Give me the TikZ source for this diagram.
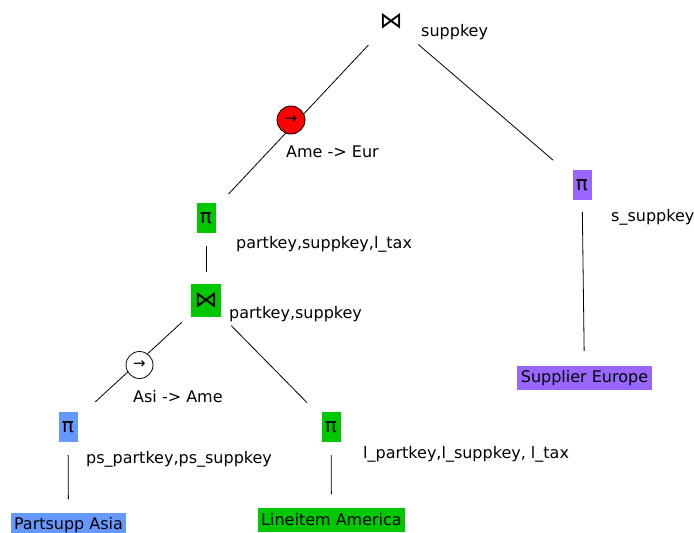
\documentclass[tikz,border=0pt]{standalone}
\usepackage{fontspec}
\setmainfont{DejaVu Sans}
\definecolor{opgreen}{RGB}{0,200,0}
\definecolor{opblue}{RGB}{102,153,255}
\definecolor{oppurple}{RGB}{153,102,255}
\begin{document}
\begin{tikzpicture}[x=1pt,y=-1pt,
  every node/.style={font=\fontsize{16}{19}\selectfont},
  opbox/.style={inner sep=0pt, minimum width=19pt, minimum height=30pt, font=\fontsize{20}{22}\selectfont},
  joinbox/.style={inner sep=0pt, minimum width=30pt, minimum height=33pt},
  relbox/.style={inner xsep=3.5pt, inner ysep=0pt, minimum height=24pt},
  lbl/.style={inner sep=0pt, anchor=base west},
  conv/.style={circle, draw=black, line width=0.8pt, inner sep=0pt, minimum size=27pt, font=\fontsize{15}{16}\selectfont},
  edge/.style={draw=black, line width=0.8pt}
]
\useasboundingbox (0,0) rectangle (694,533);

% nodes
\node[inner sep=0pt, font=\fontsize{23}{26}\selectfont] (top) at (391,21) {⋈};
\node[opbox, fill=opgreen] (pig) at (206,218) {π};
\node[joinbox, fill=opgreen, font=\fontsize{23}{26}\selectfont] (jg) at (206,300) {⋈};
\node[opbox, fill=oppurple] (pip) at (582,185) {π};
\node[relbox, fill=oppurple] (sup) at (584.5,378) {Supplier Europe};
\node[opbox, fill=opblue] (pib) at (68,427) {π};
\node[relbox, fill=opblue] (ps) at (68.5,525) {Partsupp Asia};
\node[opbox, fill=opgreen] (pil) at (331,427) {π};
\node[relbox, fill=opgreen] (li) at (331.5,520) {Lineitem America};

% edges
\draw[edge, shorten <=33pt, shorten >=33pt] (top.center) -- (pig.center);
\draw[edge, shorten <=36pt, shorten >=38pt] (top.center) -- (pip.center);
\draw[edge, shorten <=27pt, shorten >=27pt] (pip.center) -- (sup.center);
\draw[edge, shorten <=28pt, shorten >=28pt] (pig.center) -- (jg.center);
\draw[edge, shorten <=33pt, shorten >=37pt] (jg.center) -- (pib.center);
\draw[edge, shorten <=36pt, shorten >=34pt] (jg.center) -- (pil.center);
\draw[edge, shorten <=28pt, shorten >=26pt] (pib.center) -- (ps.center);
\draw[edge, shorten <=28pt, shorten >=26pt] (pil.center) -- (li.center);

% conversion circles
\node[conv, fill=red, minimum size=28pt] (c1) at (291,120) {→};
\node[conv, fill=white] (c2) at (139.5,365) {→};

% labels
\node[lbl] (l1) at (421,36) {suppkey};
\node[lbl] (l2) at (286,157) {Ame -> Eur};
\node[lbl] (l3) at (611,221) {s\_suppkey};
\node[lbl] (l4) at (236,248) {partkey,suppkey,l\_tax};
\node[lbl] (l5) at (229,318) {partkey,suppkey};
\node[lbl] (l6) at (133,402) {Asi -> Ame};
\node[lbl] (l7) at (86,463) {ps\_partkey,ps\_suppkey};
\node[lbl] (l8) at (363,458) {l\_partkey,l\_suppkey, l\_tax};
\end{tikzpicture}
\end{document}
